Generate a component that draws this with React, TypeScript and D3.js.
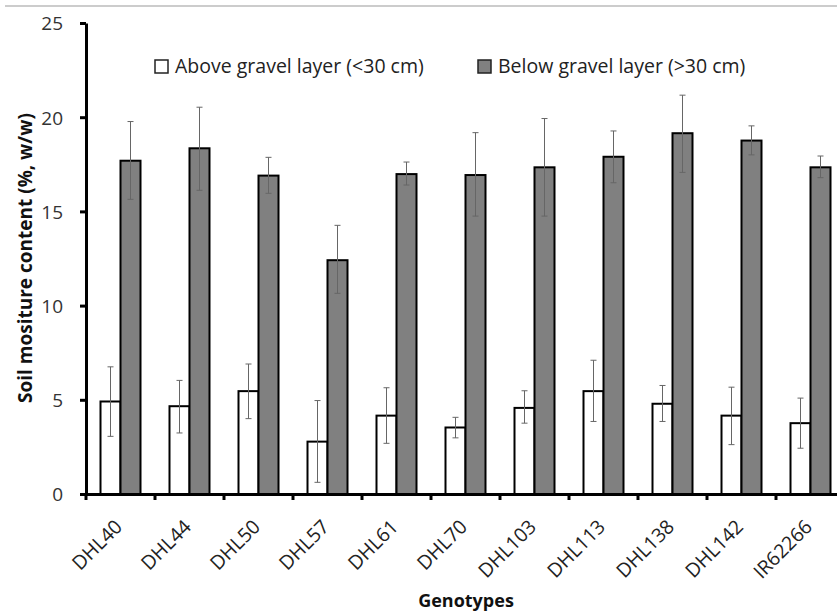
import * as React from "react";
import * as d3 from "d3";

const genotypes = ["DHL40", "DHL44", "DHL50", "DHL57", "DHL61", "DHL70", "DHL103", "DHL113", "DHL138", "DHL142", "IR62266"];

// above gravel layer (<30 cm)
const aboveMean = [4.91, 4.66, 5.46, 2.78, 4.16, 3.53, 4.57, 5.46, 4.79, 4.16, 3.76];
const aboveLow = [3.06, 3.24, 4.0, 0.62, 2.69, 2.98, 3.76, 3.85, 3.85, 2.62, 2.43];
const aboveHigh = [6.75, 6.03, 6.9, 4.96, 5.64, 4.07, 5.48, 7.1, 5.76, 5.67, 5.09];

// below gravel layer (>30 cm)
const belowMean = [17.69, 18.35, 16.9, 12.41, 16.98, 16.93, 17.34, 17.9, 19.15, 18.76, 17.34];
const belowLow = [15.64, 16.12, 15.96, 10.65, 16.4, 14.75, 14.75, 16.52, 17.07, 18.0, 16.79];
const belowHigh = [19.77, 20.53, 17.87, 14.26, 17.62, 19.18, 19.93, 19.27, 21.17, 19.54, 17.94];

const yTicks = [0, 5, 10, 15, 20, 25];
const legendLabels = ["Above gravel layer (<30 cm)", "Below gravel layer (>30 cm)"];

const W = 837;
const H = 613;
const FONT = "'Open Sans', 'Noto Sans', sans-serif";

export default function App() {
  const ref = React.useRef<SVGSVGElement>(null);

  React.useEffect(() => {
    const svg = d3.select(ref.current);
    svg.selectAll("*").remove();

    const x0 = 86;
    const x = d3.scaleBand().domain(genotypes).range([x0, x0 + 69 * genotypes.length]);
    const y = d3.scaleLinear().domain([0, 25]).range([494, 23]);
    const barW = 20;

    // faint page line at top
    svg.append("line")
      .attr("x1", 5).attr("x2", W)
      .attr("y1", 6).attr("y2", 6)
      .attr("stroke", "#cccccc").attr("stroke-width", 2);

    const series = [
      {mean: aboveMean, low: aboveLow, high: aboveHigh, fill: "#ffffff", off: -barW},
      {mean: belowMean, low: belowLow, high: belowHigh, fill: "#808080", off: 0},
    ];

    series.forEach(s => {
      const g = svg.append("g");
      g.selectAll("rect")
        .data(genotypes).enter()
        .append("rect")
        .attr("x", d => x(d)! + x.bandwidth() / 2 + s.off)
        .attr("y", (d, i) => y(s.mean[i]))
        .attr("width", barW)
        .attr("height", (d, i) => y(0) - y(s.mean[i]))
        .attr("fill", s.fill)
        .attr("stroke", "#000")
        .attr("stroke-width", 2);

      // error bars
      const eg = g.selectAll(".err")
        .data(genotypes).enter()
        .append("g")
        .attr("class", "err")
        .attr("stroke", "#666")
        .attr("stroke-width", 1);
      const cx = (d: string) => x(d)! + x.bandwidth() / 2 + s.off + barW / 2;
      eg.append("line")
        .attr("x1", cx).attr("x2", cx)
        .attr("y1", (d, i) => y(s.low[i]))
        .attr("y2", (d, i) => y(s.high[i]));
      eg.append("line")
        .attr("x1", d => cx(d) - 3).attr("x2", d => cx(d) + 3)
        .attr("y1", (d, i) => y(s.low[i])).attr("y2", (d, i) => y(s.low[i]));
      eg.append("line")
        .attr("x1", d => cx(d) - 3).attr("x2", d => cx(d) + 3)
        .attr("y1", (d, i) => y(s.high[i])).attr("y2", (d, i) => y(s.high[i]));
    });

    // y axis
    const yAxis = svg.append("g")
      .attr("transform", `translate(${x0},0)`)
      .call(d3.axisLeft(y).tickValues(yTicks).tickSize(6).tickSizeOuter(0).tickPadding(17));
    yAxis.select(".domain").attr("stroke", "#000").attr("stroke-width", 3);
    yAxis.selectAll(".tick line").attr("stroke", "#000").attr("stroke-width", 3);
    yAxis.selectAll(".tick text")
      .attr("fill", "#333")
      .attr("dy", "0.36em")
      .style("font-family", FONT)
      .style("font-size", "19px");

    // x axis
    const xAxis = svg.append("g")
      .attr("transform", `translate(0,${y(0)})`)
      .call(d3.axisBottom(x).tickSize(0).tickSizeOuter(0));
    xAxis.select(".domain").attr("stroke", "#000").attr("stroke-width", 3);
    xAxis.selectAll(".tick text")
      .attr("fill", "#222")
      .style("font-family", FONT)
      .style("font-size", "19.5px")
      .attr("text-anchor", "end")
      .attr("dy", 0)
      .attr("y", 0)
      .attr("x", 0)
      .attr("transform", "translate(3,34) rotate(-45)");
    // ticks between categories
    svg.append("g").selectAll("line")
      .data(genotypes).enter()
      .append("line")
      .attr("x1", d => x(d)!).attr("x2", d => x(d)!)
      .attr("y1", y(0)).attr("y2", y(0) + 6)
      .attr("stroke", "#000").attr("stroke-width", 3);

    // axis titles
    svg.append("text")
      .attr("transform", `translate(32,258) rotate(-90)`)
      .attr("text-anchor", "middle")
      .style("font-family", FONT)
      .style("font-size", "19px")
      .style("font-weight", "bold")
      .attr("fill", "#111")
      .text("Soil mositure content (%, w/w)");

    svg.append("text")
      .attr("x", 466).attr("y", 607)
      .attr("text-anchor", "middle")
      .style("font-family", FONT)
      .style("font-size", "18px")
      .style("font-weight", "bold")
      .attr("fill", "#111")
      .text("Genotypes");

    // legend
    const legX = [155, 478];
    legendLabels.forEach((label, i) => {
      const lg = svg.append("g").attr("transform", `translate(${legX[i]},60)`);
      lg.append("rect")
        .attr("x", 0).attr("y", 0)
        .attr("width", 13).attr("height", 13)
        .attr("fill", series[i].fill)
        .attr("stroke", "#222").attr("stroke-width", 1.5);
      lg.append("text")
        .attr("x", 20).attr("y", 13)
        .style("font-family", FONT)
        .style("font-size", "19.5px")
        .attr("fill", "#222")
        .text(label);
    });
  }, []);

  return (
    <svg ref={ref} width={W} height={H}
      style={{position: "absolute", left: 0, top: 0, background: "#fff"}} />
  );
}
